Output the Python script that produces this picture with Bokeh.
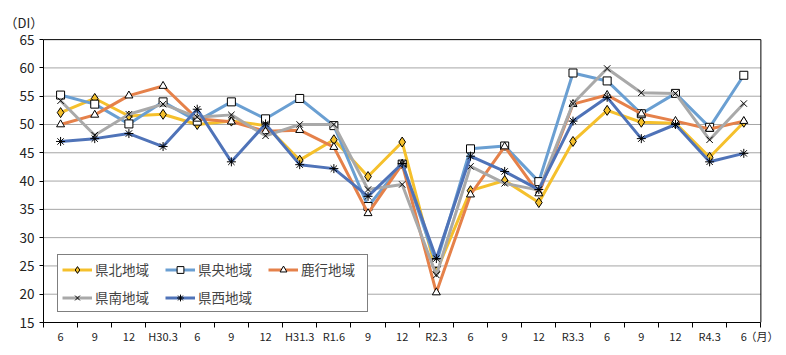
from bokeh.plotting import figure
from bokeh.models import FixedTicker, Legend, LegendItem, Title
from bokeh.embed import file_html
from bokeh.resources import INLINE

labels = ["6", "9", "12", "H30.3", "6", "9", "12", "H31.3", "R1.6", "9", "12",
          "R2.3", "6", "9", "12", "R3.3", "6", "9", "12", "R4.3", "6"]
unit_label = "（月）"
y_label = "（DI）"

kenpoku = [52.1, 54.6, 51.5, 51.8, 50.0, 50.6, 49.8, 43.7, 47.3, 40.8, 46.9,
           24.0, 38.3, 40.1, 36.2, 47.0, 52.5, 50.4, 50.2, 44.2, 50.4]
kenou = [55.2, 53.6, 50.1, 54.0, 50.6, 54.0, 51.0, 54.6, 49.8, 35.5, 43.0,
         25.5, 45.7, 46.2, 39.9, 59.1, 57.7, 51.9, 55.5, 49.5, 58.7]
rokko = [50.0, 51.7, 55.1, 56.8, 51.0, 50.5, 48.8, 49.0, 46.0, 34.3, 43.0,
         20.3, 37.6, 46.1, 37.8, 53.6, 55.2, 51.9, 50.6, 49.2, 50.6]
kennan = [54.2, 48.1, 51.8, 53.6, 51.3, 51.7, 48.0, 50.0, 50.0, 38.5, 39.4,
          23.4, 42.6, 39.6, 38.4, 53.7, 59.9, 55.6, 55.5, 47.3, 53.7]
kensei = [47.0, 47.5, 48.4, 46.1, 52.7, 43.4, 50.1, 42.9, 42.2, 37.3, 43.1,
          26.3, 44.4, 41.7, 38.5, 50.6, 54.8, 47.5, 50.0, 43.4, 44.9]

names = ["県北地域", "県央地域", "鹿行地域", "県南地域", "県西地域"]
series = [kenpoku, kenou, rokko, kennan, kensei]
colors = ["#F5C02C", "#6A9FD2", "#E5814A", "#A9A9A9", "#4F73B8"]
markers = ["diamond", "square", "triangle", "x", "asterisk"]
msizes = [10, 8, 8, 9, 9]
mfills = ["#F5C02C", "white", "white", None, None]

y_ticks = list(range(15, 66, 5))
y_min, y_max = 15, 65

FONT = "Noto Sans CJK JP"
n = len(labels)
xs = list(range(n))
x_lo, x_hi = -0.5, n - 0.5
x_end = x_hi + 0.75   # room to the right of the box for the unit label

p = figure(width=786, height=355, output_backend="svg", toolbar_location=None,
           x_range=(x_lo, x_end), y_range=(y_min, y_max + 0.2),
           min_border_left=43, min_border_right=0, min_border_top=38,
           min_border_bottom=33)
p.background_fill_color = "white"
p.border_fill_color = "white"
p.outline_line_color = None

p.yaxis.ticker = FixedTicker(ticks=y_ticks)
p.yaxis.bounds = (y_min, y_max)
p.yaxis.major_label_text_font = FONT
p.yaxis.major_label_text_font_size = "13.5px"
p.yaxis.major_label_text_color = "#222222"
p.yaxis.major_tick_in = 0
p.yaxis.major_tick_out = 4
p.yaxis.minor_tick_out = 0
p.yaxis.minor_tick_in = 0
p.yaxis.axis_line_color = "black"
p.yaxis.major_tick_line_color = "black"

unit_x = x_hi + 0.03
p.xaxis.ticker = FixedTicker(ticks=xs + [unit_x],
                             minor_ticks=[i - 0.5 for i in range(n + 1)])
overrides = {i: s for i, s in enumerate(labels)}
overrides[unit_x] = unit_label
p.xaxis.major_label_overrides = overrides
p.xaxis.bounds = (x_lo, x_hi)
p.xaxis.major_label_text_font = FONT
p.xaxis.major_label_text_font_size = "11px"
p.xaxis.major_label_text_color = "#222222"
p.xaxis.major_tick_in = 0
p.xaxis.major_tick_out = 0
p.xaxis.minor_tick_in = 0
p.xaxis.minor_tick_out = 5
p.xaxis.minor_tick_line_color = "black"
p.xaxis.axis_line_color = "black"
p.xaxis.major_label_standoff = 0

p.xgrid.grid_line_color = None
p.ygrid.grid_line_color = None

inner = [t for t in y_ticks if y_min < t < y_max]
p.segment(x0=[x_lo] * len(inner), x1=[x_hi] * len(inner), y0=inner, y1=inner,
          line_color="#A6A6A6", line_width=1)
p.quad(left=[x_lo], right=[x_hi], bottom=[y_min], top=[y_max],
       fill_color=None, line_color="black", line_width=1)

items = {}
for name, vals, c, m, ms, mf in zip(names, series, colors, markers, msizes, mfills):
    r1 = p.line(xs, vals, line_color=c, line_width=3)
    r2 = p.scatter(xs, vals, marker=m, size=ms, line_color="black", line_width=1,
                   fill_color=mf)
    items[name] = LegendItem(label=name, renderers=[r1, r2])

# legend fills column by column: order so rows read 県北/県央/鹿行 then 県南/県西
order = ["県北地域", "県南地域", "県央地域", "県西地域", "鹿行地域"]
legend = Legend(items=[items[k] for k in order], ncols=3, location=(14, 10),
                label_text_font=FONT, label_text_font_size="13.5px",
                glyph_width=30, glyph_height=17, label_height=17, label_width=62,
                label_standoff=3, spacing=8, padding=4, margin=0,
                border_line_color="black", border_line_width=1,
                background_fill_alpha=1.0)
p.add_layout(legend, "center")

p.add_layout(Title(text=y_label, align="left", offset=-39, standoff=14,
                   text_font=FONT, text_font_size="13px",
                   text_font_style="normal", text_color="#222222"), "above")

open("out.html", "w").write(file_html(p, INLINE))
